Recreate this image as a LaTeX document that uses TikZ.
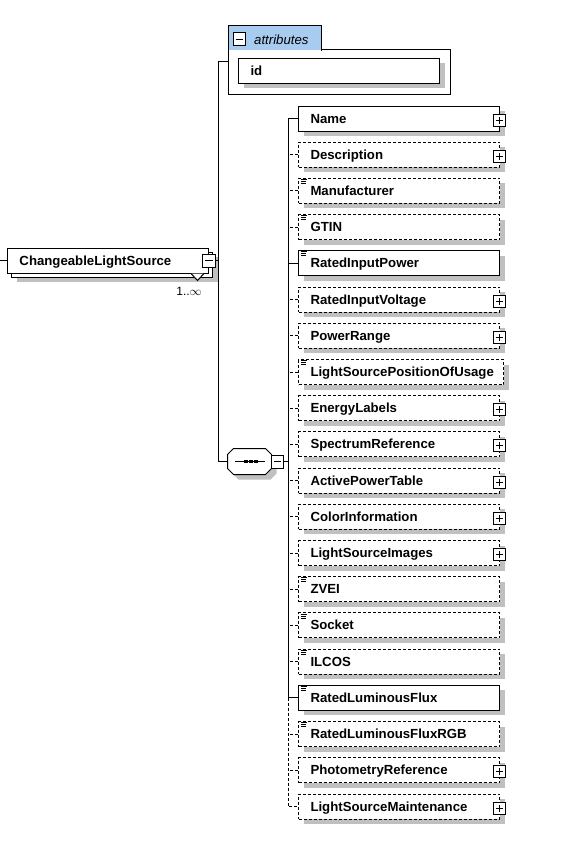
\documentclass[tikz,border=0pt]{standalone}
\usepackage{fontspec}
\setmainfont{Liberation Sans}
\definecolor{tabblue}{RGB}{168,204,240}
\definecolor{shadowgrey}{RGB}{192,192,192}
\tikzset{
  shadowbox/.style={fill=shadowgrey,anchor=west,minimum width=201pt,minimum height=25pt,inner sep=0pt},
  elem/.style={draw,fill=white,line width=1pt,anchor=west,minimum height=25pt,
    text width=177pt,inner xsep=12pt,inner ysep=0pt,text height=9pt,text depth=0pt,
    align=left,font=\bfseries\fontsize{13.2pt}{15pt}\selectfont},
  opt/.style={dash pattern=on 3pt off 2pt},
  wide/.style={text width=181pt},
  plusbox/.style={draw,solid,fill=white,line width=1pt,minimum size=12pt,inner sep=0pt,
    path picture={\draw[line width=0.9pt]
      ([xshift=2.5pt]path picture bounding box.west) -- ([xshift=-2.5pt]path picture bounding box.east)
      ([yshift=2.5pt]path picture bounding box.south) -- ([yshift=-2.5pt]path picture bounding box.north);}},
  minusbox/.style={draw,solid,fill=white,line width=1pt,minimum width=12.5pt,minimum height=13pt,inner sep=0pt,
    path picture={\draw[line width=0.9pt]
      ([xshift=2.5pt]path picture bounding box.west) -- ([xshift=-2.5pt]path picture bounding box.east);}},
  docicon/.style={solid,minimum width=9pt,minimum height=6pt,inner sep=0pt,
    path picture={\draw[line width=0.8pt]
      ([shift={(2pt,-1pt)}]path picture bounding box.north west) -- +(6pt,0pt)
      ([shift={(2.5pt,-3pt)}]path picture bounding box.north west) -- +(4.5pt,0pt)
      ([shift={(2.5pt,-5pt)}]path picture bounding box.north west) -- +(4.5pt,0pt);}},
  plus/.style={label={[plusbox,anchor=center,xshift=-1pt,yshift=-1.5pt]east:{}}},
  doc/.style={label={[docicon,anchor=north west]north west:{}}},
  seqbox/.style={minimum width=43pt,minimum height=25pt,inner sep=0pt}
}
\newcommand\octagon[1]{([xshift=6pt]#1.north west) -- ([xshift=-6pt]#1.north east)
  -- ([yshift=-6pt]#1.north east) -- ([yshift=6pt]#1.south east) -- ([xshift=-6pt]#1.south east)
  -- ([xshift=6pt]#1.south west) -- ([yshift=6pt]#1.south west) -- ([yshift=-6pt]#1.north west) -- cycle}

\begin{document}
\begin{tikzpicture}[x=1pt,y=-1pt,line width=1pt]
  \useasboundingbox (0,0) rectangle (563,844);

  % shadows first, so that the boxes cover them
  \foreach \y [count=\i] in {123.5,159.7,195.9,232.1,268.3,304.6,340.8,413.2,449.4,485.6,
      521.8,558.0,594.2,630.4,666.7,702.9,739.1,775.3,811.5}
    \node[shadowbox] (shadow\i) at (303,\y) {};
  \node[shadowbox,minimum width=205pt] (widesh) at (303,377.0) {};
  \node[shadowbox] (CLSsh) at (16,269.5) {};
  \node[shadowbox] (idsh) at (243,75.5) {};

  % root element
  \node[draw,fill=white,minimum width=201pt,minimum height=25pt,anchor=west] (CLScopy) at (11,264.5) {};
  \node[elem] (CLS) at (7,260.5) {ChangeableLightSource};
  \node[minusbox] (CLSminus) at (CLS.east) {};
  \draw[fill=white] ([xshift=-18pt]CLS.south east) -- ++(6.5,7) -- ++(6.5,-7);
  \node[font=\fontsize{12pt}{14pt}\selectfont,inner sep=0pt] (CLSocc) at (189,291) {1..$\infty$};
  \coordinate (in) at (0,260.5);
  \draw (in) -- (CLS.west);

  % attributes
  \node[draw,fill=white,anchor=north west,minimum width=222pt,minimum height=45pt,inner sep=0pt] (attrbody) at (228,49) {};
  \node[fill=tabblue,anchor=north west,minimum width=92pt,minimum height=24.5pt,text width=68pt,
    inner xsep=12pt,inner ysep=0pt,text height=13.5pt,text depth=0pt,align=right,
    font=\itshape\fontsize{13.2pt}{15pt}\selectfont,
    label={[minusbox,anchor=center,xshift=11.5pt,yshift=-1.5pt]west:{}}] (attrtab) at (228,25) {attributes};
  \draw (attrtab.south west) |- (attrtab.north east) -- (attrtab.south east);
  \node[shadowbox] (idshadow) at (243,75.5) {};
  \node[elem] (id) at (238,70.5) {id};

  % sequence
  \node[seqbox] (seqshadow) at (254.5,466.5) {};
  \fill[shadowgrey] \octagon{seqshadow};
  \node[seqbox] (seq) at (249.5,461.5) {};
  \draw[fill=white] \octagon{seq};
  \draw ([xshift=-14.5pt]seq.center) -- ([xshift=15.5pt]seq.center);
  \fill ([xshift=-3.5pt]seq.center) +(-1.8pt,-1.8pt) rectangle +(1.8pt,1.8pt);
  \fill ([xshift=1.5pt]seq.center) +(-1.8pt,-1.8pt) rectangle +(1.8pt,1.8pt);
  \fill ([xshift=6.5pt]seq.center) +(-1.8pt,-1.8pt) rectangle +(1.8pt,1.8pt);
  \node[minusbox] (seqminus) at (277.5,461.5) {};

  \coordinate (attrin) at (228,61);
  \coordinate (trunk) at (218,61);
  \draw (attrin) -- (trunk) |- (seq.west);
  \draw (CLSminus.east) -- (CLSminus.east -| trunk);

  % children
  \node[elem,plus] (Name) at (298,118.5) {Name};
  \node[elem,opt,plus] (Description) at (298,154.7) {Description};
  \node[elem,opt,doc] (Manufacturer) at (298,190.9) {Manufacturer};
  \node[elem,opt,doc] (GTIN) at (298,227.1) {GTIN};
  \node[elem,doc] (RatedInputPower) at (298,263.3) {RatedInputPower};
  \node[elem,opt,plus] (RatedInputVoltage) at (298,299.6) {RatedInputVoltage};
  \node[elem,opt,plus] (PowerRange) at (298,335.8) {PowerRange};
  \node[elem,opt,doc,wide] (LightSourcePositionOfUsage) at (298,372.0) {LightSourcePositionOfUsage};
  \node[elem,opt,plus] (EnergyLabels) at (298,408.2) {EnergyLabels};
  \node[elem,opt,plus] (SpectrumReference) at (298,444.4) {SpectrumReference};
  \node[elem,opt,plus] (ActivePowerTable) at (298,480.6) {ActivePowerTable};
  \node[elem,opt,plus] (ColorInformation) at (298,516.8) {ColorInformation};
  \node[elem,opt,plus] (LightSourceImages) at (298,553.0) {LightSourceImages};
  \node[elem,opt,doc] (ZVEI) at (298,589.2) {ZVEI};
  \node[elem,opt,doc] (Socket) at (298,625.4) {Socket};
  \node[elem,opt,doc] (ILCOS) at (298,661.7) {ILCOS};
  \node[elem,doc] (RatedLuminousFlux) at (298,697.9) {RatedLuminousFlux};
  \node[elem,opt,doc] (RatedLuminousFluxRGB) at (298,734.1) {RatedLuminousFluxRGB};
  \node[elem,opt,plus] (PhotometryReference) at (298,770.3) {PhotometryReference};
  \node[elem,opt,plus] (LightSourceMaintenance) at (298,806.5) {LightSourceMaintenance};

  \coordinate (bus) at (288,118.5);
  \draw (seqminus.east) -- (seqminus.east -| bus);
  \draw (Name.west) -| (RatedLuminousFlux.west -| bus) -- (RatedLuminousFlux.west);
  \draw (RatedInputPower.west) -- (RatedInputPower.west -| bus);
  \draw[opt] (RatedLuminousFlux.west -| bus) |- (LightSourceMaintenance.west);
  \draw[opt] (Description.west) -- (Description.west -| bus);
  \draw[opt] (Manufacturer.west) -- (Manufacturer.west -| bus);
  \draw[opt] (GTIN.west) -- (GTIN.west -| bus);
  \draw[opt] (RatedInputVoltage.west) -- (RatedInputVoltage.west -| bus);
  \draw[opt] (PowerRange.west) -- (PowerRange.west -| bus);
  \draw[opt] (LightSourcePositionOfUsage.west) -- (LightSourcePositionOfUsage.west -| bus);
  \draw[opt] (EnergyLabels.west) -- (EnergyLabels.west -| bus);
  \draw[opt] (SpectrumReference.west) -- (SpectrumReference.west -| bus);
  \draw[opt] (ActivePowerTable.west) -- (ActivePowerTable.west -| bus);
  \draw[opt] (ColorInformation.west) -- (ColorInformation.west -| bus);
  \draw[opt] (LightSourceImages.west) -- (LightSourceImages.west -| bus);
  \draw[opt] (ZVEI.west) -- (ZVEI.west -| bus);
  \draw[opt] (Socket.west) -- (Socket.west -| bus);
  \draw[opt] (ILCOS.west) -- (ILCOS.west -| bus);
  \draw[opt] (RatedLuminousFluxRGB.west) -- (RatedLuminousFluxRGB.west -| bus);
  \draw[opt] (PhotometryReference.west) -- (PhotometryReference.west -| bus);
\end{tikzpicture}
\end{document}
